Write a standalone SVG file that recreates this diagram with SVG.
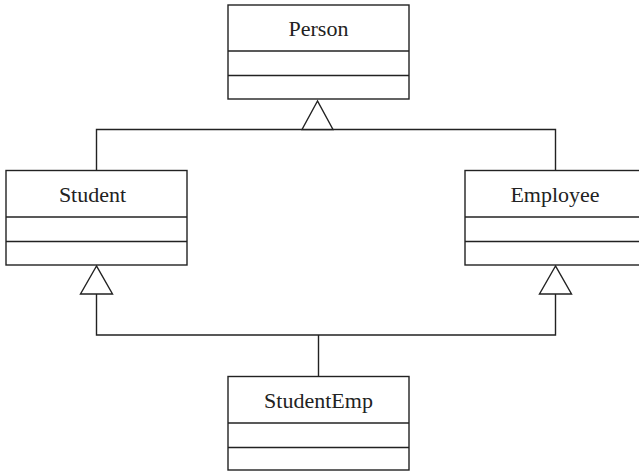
<svg xmlns="http://www.w3.org/2000/svg" width="639" height="471" viewBox="0 0 639 471">
  <style>
    .box { fill: #fff; stroke: #222; stroke-width: 1.4; }
    .div { stroke: #222; stroke-width: 1.4; }
    .line { fill: none; stroke: #222; stroke-width: 1.4; }
    .tri { fill: #fff; stroke: #222; stroke-width: 1.4; stroke-linejoin: miter; }
    .label { font-family: "Liberation Serif", "Times New Roman", serif; font-size: 22px; fill: #222; text-anchor: middle; }
  </style>
  <rect width="639" height="471" fill="#fff"/>

  <!-- inheritance connectors -->
  <g id="connectors">
    <path class="line" d="M96.5,170.5 V129.5 H555.5 V170.5"/>
    <path class="line" d="M96.5,294 V335 H555.5 V294"/>
    <path class="line" d="M318.5,335 V376.5"/>
    <polygon class="tri" points="317.5,101 302,129.5 333,129.5"/>
    <polygon class="tri" points="96.5,266 80.5,294 112.5,294"/>
    <polygon class="tri" points="555.5,266 539.5,294 571.5,294"/>
  </g>

  <g id="person">
    <rect class="box" x="228" y="5" width="181" height="94"/>
    <line class="div" x1="228" y1="51" x2="409" y2="51"/>
    <line class="div" x1="228" y1="75.5" x2="409" y2="75.5"/>
    <text class="label" x="318.5" y="36">Person</text>
  </g>

  <g id="student">
    <rect class="box" x="6" y="170.5" width="181" height="94.5"/>
    <line class="div" x1="6" y1="217" x2="187" y2="217"/>
    <line class="div" x1="6" y1="241.5" x2="187" y2="241.5"/>
    <text class="label" x="92.5" y="202">Student</text>
  </g>

  <g id="employee">
    <rect class="box" x="465" y="170.5" width="181" height="94.5"/>
    <line class="div" x1="465" y1="217" x2="646" y2="217"/>
    <line class="div" x1="465" y1="241.5" x2="646" y2="241.5"/>
    <text class="label" x="555" y="202">Employee</text>
  </g>

  <g id="studentemp">
    <rect class="box" x="228" y="376.5" width="181" height="93.5"/>
    <line class="div" x1="228" y1="423" x2="409" y2="423"/>
    <line class="div" x1="228" y1="447.5" x2="409" y2="447.5"/>
    <text class="label" x="318.5" y="408">StudentEmp</text>
  </g>
</svg>
